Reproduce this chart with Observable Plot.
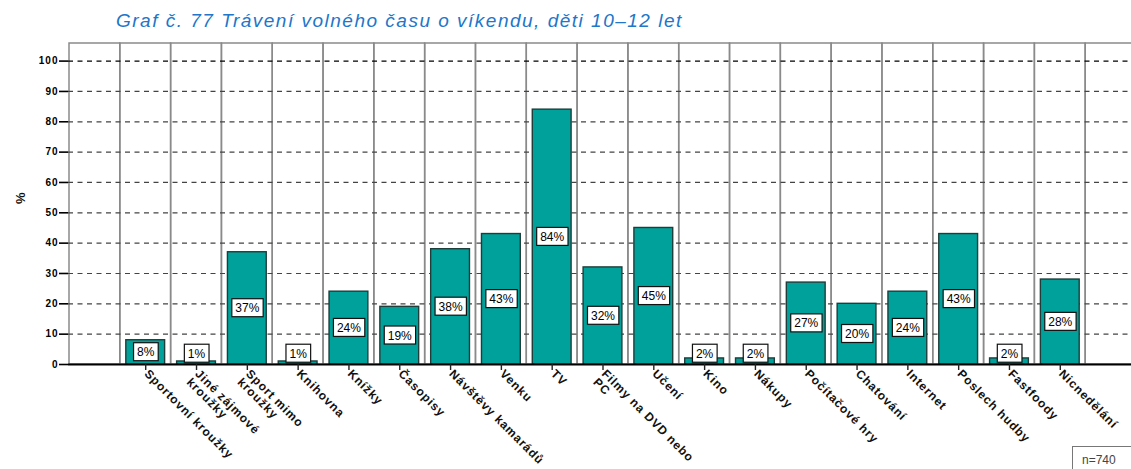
<!DOCTYPE html>
<html>
<head>
<meta charset="utf-8">
<script src="https://cdn.jsdelivr.net/npm/d3@7"></script>
<script src="https://cdn.jsdelivr.net/npm/@observablehq/plot@0.6"></script>
<style>
  body { margin: 0; background: #fff; }
  #wrap { position: relative; width: 1131px; height: 469px; overflow: hidden; font-family: "Liberation Sans", Arial, sans-serif; }
  #title { position: absolute; left: 116px; top: 10px; font-style: italic; font-size: 19px; color: #2176c9; white-space: nowrap; letter-spacing: 1.5px; }
  #nbox { position: absolute; left: 1072px; top: 446px; width: 70px; height: 30px; border: 1px solid #777; box-sizing: border-box; font-size: 12px; color: #444; padding: 6px 0 0 9px; }
  .xlab text { letter-spacing: 0.9px; }
  g[aria-label="y-axis tick label"] text { letter-spacing: 1px; }
</style>
</head>
<body>
<div id="wrap">
  <div id="chart"></div>
  <div id="title">Graf č. 77 Trávení volného času o víkendu, děti 10–12 let</div>
  <div id="nbox">n=740</div>
</div>
<script>
const categories = [
  "Sportovní kroužky",
  "Jiné zájmové\nkroužky",
  "Sport mimo\nkroužky",
  "Knihovna",
  "Knížky",
  "Časopisy",
  "Návštěvy kamarádů",
  "Venku",
  "TV",
  "Filmy na DVD nebo\nPC",
  "Učení",
  "Kino",
  "Nákupy",
  "Počítačové hry",
  "Chatování",
  "Internet",
  "Poslech hudby",
  "Fastfoody",
  "Nicnedělání"
];
const values = [8, 1, 37, 1, 24, 19, 38, 43, 84, 32, 45, 2, 2, 27, 20, 24, 43, 2, 28];
const yTicks = [0, 10, 20, 30, 40, 50, 60, 70, 80, 90, 100];
const yAxisLabel = "%";

const bands = ["", ...categories, " "];
const data = categories.map((c, i) => ({cat: c, value: values[i]}));
const yTop = 105.8;

const chart = Plot.plot({
  width: 1131,
  height: 469,
  marginTop: 43,
  marginBottom: 105,
  marginLeft: 68,
  marginRight: 0,
  style: {fontFamily: "'Liberation Sans', Arial, sans-serif", background: "transparent", overflow: "hidden"},
  x: {domain: bands, range: [69, 1136], padding: 0, round: false, axis: null},
  y: {domain: [0, yTop], axis: null},
  marks: [
    Plot.barY(bands, {x: d => d, y1: 0, y2: yTop, fill: "none", stroke: "#8a8a8a", strokeWidth: 1.5}),
    Plot.ruleY(yTicks.filter(t => t > 0), {stroke: d => d === 100 ? "#000" : "#444", strokeDasharray: "5,4.5", strokeWidth: 1.2}),
    Plot.barY(data, {x: "cat", y: "value", fill: "#00a19a", stroke: "#1f3d3a", strokeWidth: 1.4, insetLeft: 6, insetRight: 6}),
    Plot.ruleY([0], {stroke: "#000", strokeWidth: 2}),
    Plot.axisY({ticks: yTicks, tickSize: 9, tickPadding: 1, fontSize: 10, fontWeight: "bold", label: null, tickFormat: d => d, stroke: "#000", strokeWidth: 1.6}),
    Plot.axisX({ticks: categories, tickSize: 6, tickFormat: () => "", label: null, stroke: "#222", strokeWidth: 1.4}),
    Plot.text(categories, {x: d => d, y: 0, text: d => d, rotate: 45, textAnchor: "start", lineAnchor: "top", dx: 4, dy: 4, fontSize: 12, fontWeight: "bold", fill: "#111"}),
    Plot.text([yAxisLabel], {frameAnchor: "left", text: d => d, dx: -48, rotate: -90, fontSize: 13, fontWeight: "bold", fill: "#111"}),
    Plot.text(data, {x: "cat", y: d => Math.max(d.value / 2, 3.5), text: d => d.value + "%", fontSize: 12, fill: "#000"})
  ]
});
document.getElementById("chart").appendChild(chart);

// mark groups in render order: find text marks
const textGroups = Array.from(chart.querySelectorAll('g[aria-label="text"]'));
// first text mark = x labels, last = value labels
textGroups[0].classList.add("xlab");
const valueGroup = textGroups[textGroups.length - 1];
valueGroup.querySelectorAll("text").forEach(t => {
  const bb = t.getBBox();
  const r = document.createElementNS("http://www.w3.org/2000/svg", "rect");
  r.setAttribute("x", bb.x - 3.5);
  r.setAttribute("y", bb.y - 2.5);
  r.setAttribute("width", bb.width + 7);
  r.setAttribute("height", bb.height + 4);
  r.setAttribute("fill", "#fff");
  r.setAttribute("stroke", "#111");
  r.setAttribute("stroke-width", "1.2");
  const tr = t.getAttribute("transform");
  if (tr) r.setAttribute("transform", tr);
  t.parentNode.insertBefore(r, t);
});
</script>
</body>
</html>
